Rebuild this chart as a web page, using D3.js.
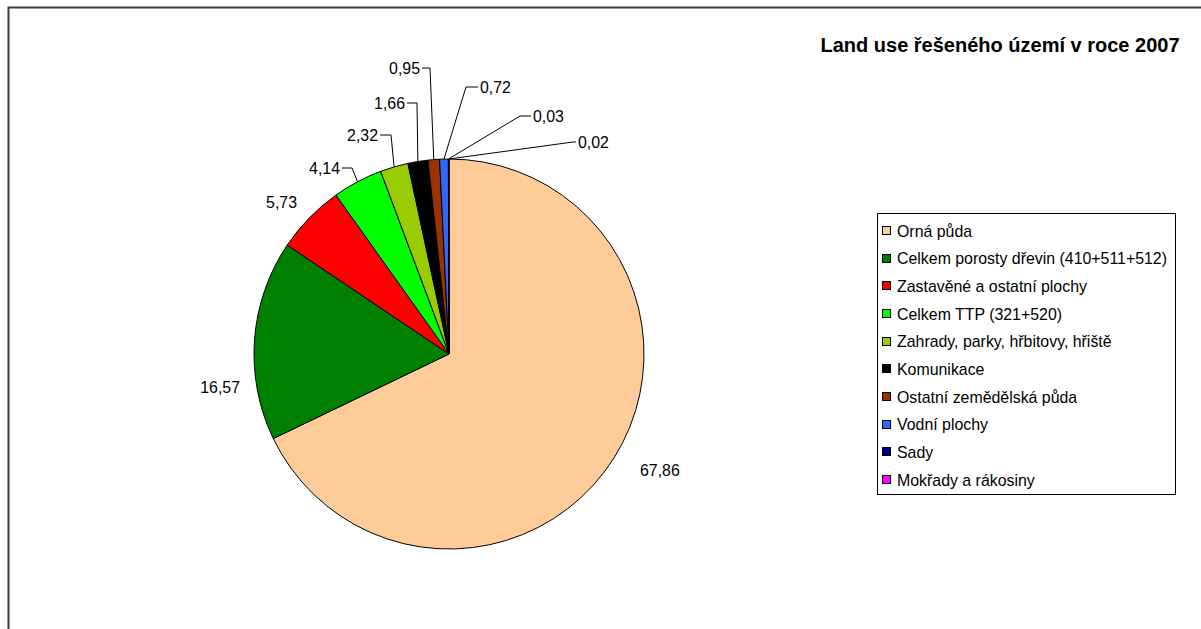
<!DOCTYPE html>
<html><head><meta charset="utf-8">
<script src="https://cdn.jsdelivr.net/npm/d3@7"></script>
<style>html,body{margin:0;padding:0;background:#fff;}svg{display:block;}text{font-family:"Liberation Sans",Arial,sans-serif;}</style>
</head><body>
<svg id="chart" width="1201" height="629"></svg>
<script>
// ---- data ----
const categories = ["Orná půda","Celkem porosty dřevin (410+511+512)","Zastavěné a ostatní plochy","Celkem TTP (321+520)","Zahrady, parky, hřbitovy, hřiště","Komunikace","Ostatní zemědělská půda","Vodní plochy","Sady","Mokřady a rákosiny"];
const values = [67.86,16.57,5.73,4.14,2.32,1.66,0.95,0.72,0.03,0.02];
const valueLabels = ["67,86","16,57","5,73","4,14","2,32","1,66","0,95","0,72","0,03","0,02"];
const colors = ["#FFCC99","#008000","#FF0000","#00FF00","#99CC00","#000000","#993300","#3366FF","#000080","#FF00FF"];
const title = "Land use řešeného území v roce 2007";

// ---- layout (label placement relative to pie centre) ----
// [textX, textY, anchor, elbowX or null]
const labelLayout = [
  [191, 116, "start", null],
  [-209, 33, "end", null],
  [-152, -152, "end", null],
  [-109, -186, "end", -97],
  [-71, -219, "end", -58],
  [-44, -251, "end", -32],
  [-29, -286, "end", -19],
  [31, -267, "start", 17],
  [84, -238, "start", 71],
  [129, -212, "start", 124]
];

const svg = d3.select("#chart");
const W = 1201, H = 629;
svg.append("rect").attr("x",0).attr("y",0).attr("width",W).attr("height",H).attr("fill","#fff");
// frame
svg.append("path").attr("d","M8.5,640 L8.5,7.5 L1210,7.5").attr("fill","none").attr("stroke","#3a3a3a").attr("stroke-width",2);

const cx = 449, cy = 354, R = 195;
const g = svg.append("g").attr("transform",`translate(${cx},${cy})`);
const pie = d3.pie().sort(null).value(d=>d)(values);
const arc = d3.arc().innerRadius(0).outerRadius(R);
g.selectAll("path.slice").data(pie).enter().append("path")
  .attr("class","slice").attr("d",arc)
  .attr("fill",(d,i)=>colors[i]).attr("stroke","#000").attr("stroke-width",1).attr("stroke-linejoin","round");

// labels
const fs = 15.9;
pie.forEach((d,i)=>{
  const [tx,ty,anchor,ex] = labelLayout[i];
  if (ex !== null) {
    const a = (d.startAngle + d.endAngle)/2;
    const px = R*Math.sin(a), py = -R*Math.cos(a);
    const gap = anchor==="end" ? 2 : -2;
    g.append("polyline")
      .attr("points",`${px},${py} ${ex},${ty} ${tx+gap},${ty}`)
      .attr("fill","none").attr("stroke","#000").attr("stroke-width",1);
  }
  g.append("text").attr("x",tx).attr("y",ty).attr("dy","0.35em")
    .attr("text-anchor",anchor).attr("font-size",fs).attr("fill","#000").text(valueLabels[i]);
});

// title
svg.append("text").attr("x",1000).attr("y",52).attr("text-anchor","middle")
  .attr("font-size",20).attr("font-weight","bold").attr("fill","#000").text(title);

// legend
const lx = 877, ly = 213, lw = 298, lh = 281;
const leg = svg.append("g");
leg.append("rect").attr("x",lx+0.5).attr("y",ly+0.5).attr("width",lw).attr("height",lh)
  .attr("fill","#fff").attr("stroke","#000").attr("stroke-width",1);
const rowY = d3.scaleLinear().domain([0,categories.length-1]).range([231,480]);
categories.forEach((c,i)=>{
  const y = rowY(i);
  leg.append("rect").attr("x",882.5).attr("y",Math.round(y)-4.5).attr("width",8).attr("height",8)
    .attr("fill",colors[i]).attr("stroke","#000").attr("stroke-width",1);
  leg.append("text").attr("x",897).attr("y",y).attr("dy","0.35em").attr("font-size",15.9).attr("fill","#000").text(c);
});
</script>
</body></html>
